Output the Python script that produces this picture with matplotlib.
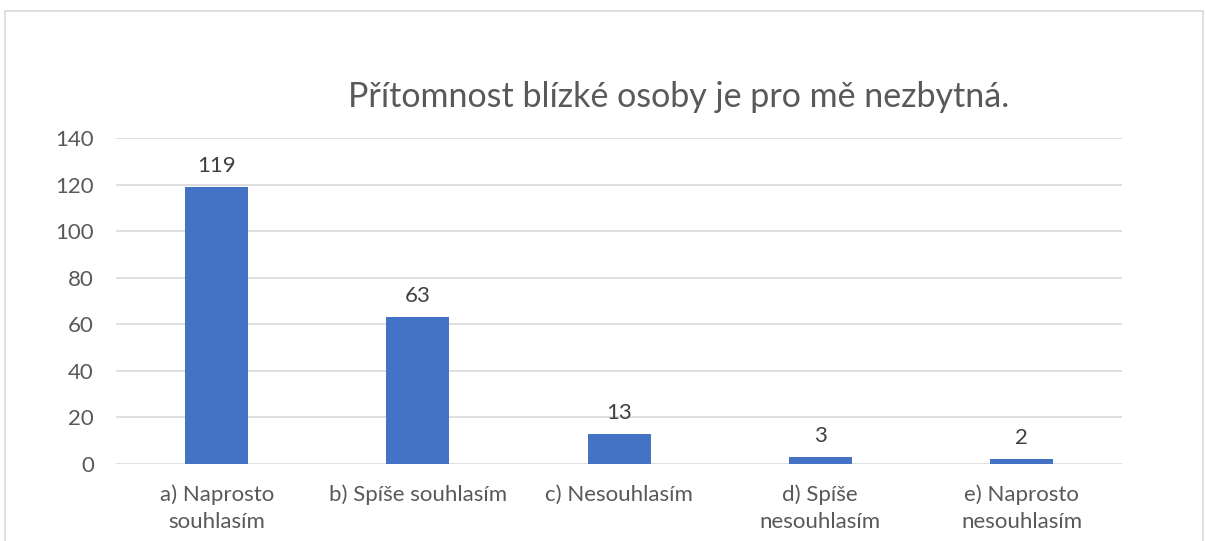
import matplotlib
matplotlib.use("Agg")
import matplotlib.pyplot as plt
import matplotlib.patches as patches

# data
categories = ["a) Naprosto\nsouhlasím", "b) Spíše souhlasím", "c) Nesouhlasím",
              "d) Spíše\nnesouhlasím", "e) Naprosto\nnesouhlasím"]
values = [119, 63, 13, 3, 2]
title = "Přítomnost blízké osoby je pro mě nezbytná."
yticks = [0, 20, 40, 60, 80, 100, 120, 140]

plt.rcParams['font.family'] = ['Lato', 'DejaVu Sans']

fig = plt.figure(figsize=(12.05, 5.41), dpi=100)
ax = fig.add_axes([0.0963, 0.1423, 0.8349, 0.6026])

x = list(range(len(values)))
ax.bar(x, values, width=0.313, color='#4472C4', zorder=3)
for xi, v in zip(x, values):
    ax.annotate(str(v), (xi, v), xytext=(0, 8), textcoords='offset points',
                ha='center', va='bottom', fontsize=16, color='#404040')

ax.set_xlim(-0.5, len(values) - 0.5)
ax.set_ylim(0, 140)
ax.set_yticks(yticks)
ax.grid(axis='y', color='#D9D9D9', linewidth=1.2, zorder=0)
for s in ax.spines.values():
    s.set_visible(False)
ax.tick_params(axis='both', length=0, labelsize=16, labelcolor='#595959')
ax.tick_params(axis='y', pad=16)
ax.tick_params(axis='x', pad=15)
ax.set_xticks(x)
ax.set_xticklabels(categories, linespacing=1.4)

fig.text(0.5635, 0.8207, title, ha='center', va='center', fontsize=24.5, color='#595959')

# chart border
border = patches.Rectangle((5 / 1205, -0.05), 1198 / 1205, 1.05 - 11 / 541,
                           transform=fig.transFigure, fill=False,
                           edgecolor='#D9D9D9', linewidth=1.2)
fig.patches.append(border)

fig.savefig("out.png", dpi=100)
